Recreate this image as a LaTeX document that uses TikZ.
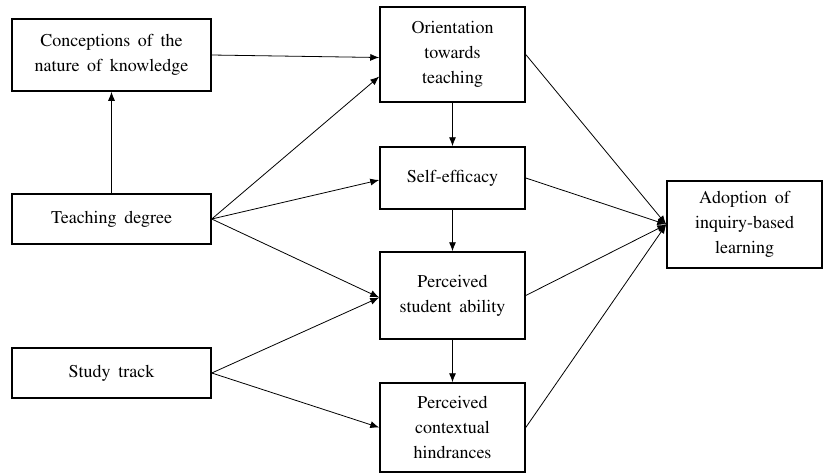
\documentclass[tikz,border=0pt]{standalone}
\usepackage[T1]{fontenc}
\usepackage{mathptmx}
\usetikzlibrary{arrows.meta}

\newcommand{\widespace}{\spaceskip=0.42em plus 0.1em\relax}

\begin{document}
\begin{tikzpicture}[x=1pt, y=-1pt,
    box/.style={draw, line width=1.5pt, align=center, inner sep=0pt,
        font=\rmfamily\fontsize{18}{25}\selectfont,
        execute at begin node=\widespace},
    link/.style={line width=0.8pt, -{Latex[length=9pt,width=7pt]}}]
    \useasboundingbox (0,0) rectangle (826,475);

    % left column
    \node[box, minimum width=199pt, minimum height=72pt] (concept) at (111.5,55)
        {Conceptions of the\\nature of knowledge};
    \node[box, minimum width=199pt, minimum height=50pt] (degree) at (111.5,219)
        {Teaching degree};
    \node[box, minimum width=199pt, minimum height=50pt] (track) at (111.5,373)
        {Study track};

    % middle column
    \node[box, minimum width=145pt, minimum height=95pt] (orient) at (452.5,54.5)
        {Orientation\\towards\\teaching};
    \node[box, minimum width=145pt, minimum height=62pt] (selfeff) at (452.5,178)
        {Self-efficacy};
    \node[box, minimum width=145pt, minimum height=87pt] (ability) at (452.5,295.5)
        {Perceived\\student ability};
    \node[box, minimum width=145pt, minimum height=89pt] (hind) at (452.5,427.5)
        {Perceived\\contextual\\hindrances};

    % outcome
    \node[box, minimum width=155pt, minimum height=87pt] (adopt) at (744.5,224.5)
        {Adoption of\\inquiry-based\\learning};

    \draw[link] (degree.north) -- (concept.south);
    \draw[link] (concept.east) -- ([yshift=-3pt]orient.west);
    \draw[link] (degree.east) -- ([yshift=-22pt]orient.west);
    \draw[link] (degree.east) -- ([yshift=-2pt]selfeff.west);
    \draw[link] (degree.east) -- ([yshift=-2pt]ability.west);
    \draw[link] (track.east) -- ([yshift=-2pt]ability.west);
    \draw[link] (track.east) -- (hind.west);

    \draw[link] (orient.south) -- (selfeff.north);
    \draw[link] (selfeff.south) -- (ability.north);
    \draw[link] (ability.south) -- (hind.north);

    \draw[link] (orient.east) -- (adopt.west);
    \draw[link] (selfeff.east) -- (adopt.west);
    \draw[link] (ability.east) -- (adopt.west);
    \draw[link] (hind.east) -- (adopt.west);
\end{tikzpicture}
\end{document}
